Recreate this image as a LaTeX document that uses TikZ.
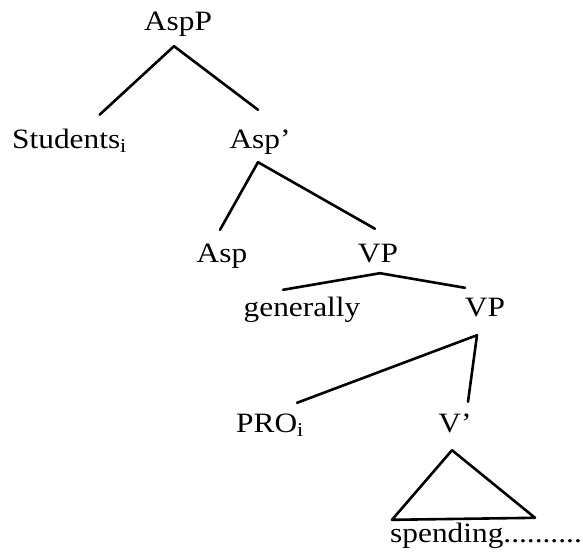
\documentclass[tikz,border=0pt]{standalone}
\usepackage{fontspec}
\setmainfont{Liberation Serif}[FakeStretch=1.12]

\begin{document}
\begin{tikzpicture}[
  x=1pt, y=-1pt,
  font=\fontsize{28}{34}\selectfont,
  lbl/.style={inner sep=0pt, text height=19pt, text depth=6pt, anchor=base},
  branch/.style={line width=2.6pt, line cap=round, line join=round, draw=black}
]
  \useasboundingbox (0,0) rectangle (583,557);

  \node[lbl] (aspp) at (178,30) {AspP};
  \node[lbl, anchor=base west] (students) at (12,148) {Students\textsubscript{i}};
  \node[lbl] (aspbar) at (260,148) {Asp’};
  \node[lbl] (asp) at (222,262) {Asp};
  \node[lbl] (vpa) at (378,262) {VP};
  \node[lbl] (generally) at (302,316) {generally};
  \node[lbl] (vpb) at (485,316) {VP};
  \node[lbl, anchor=base west] (pro) at (236,432) {PRO\textsubscript{i}};
  \node[lbl] (vbar) at (455,432) {V’};
  \node[lbl, anchor=base west] (spending) at (390,542) {spending..........};

  \draw[branch] ([shift={(30,-14)}]students.north) -- ([shift={(-4,10)}]aspp.south)
    -- ([shift={(-2,-19)}]aspbar.north);
  \draw[branch] ([shift={(-2,-13)}]asp.north) -- ([shift={(-2,8)}]aspbar.south)
    -- ([shift={(-3,-14)}]vpa.north);
  \draw[branch] ([shift={(-19,-7)}]generally.north) -- ([shift={(2,5)}]vpa.south)
    -- ([shift={(-20,-9)}]vpb.north);
  \draw[branch] ([shift={(27,-10)}]pro.north) -- ([shift={(-8,13)}]vpb.south)
    -- ([shift={(13,-11)}]vbar.north);
  % triangle over the V' material
  \draw[branch] ([shift={(-3,12)}]vbar.south) -- ([shift={(2,-3)}]spending.north west)
    -- ([shift={(145,-5)}]spending.north west) -- cycle;
\end{tikzpicture}
\end{document}
